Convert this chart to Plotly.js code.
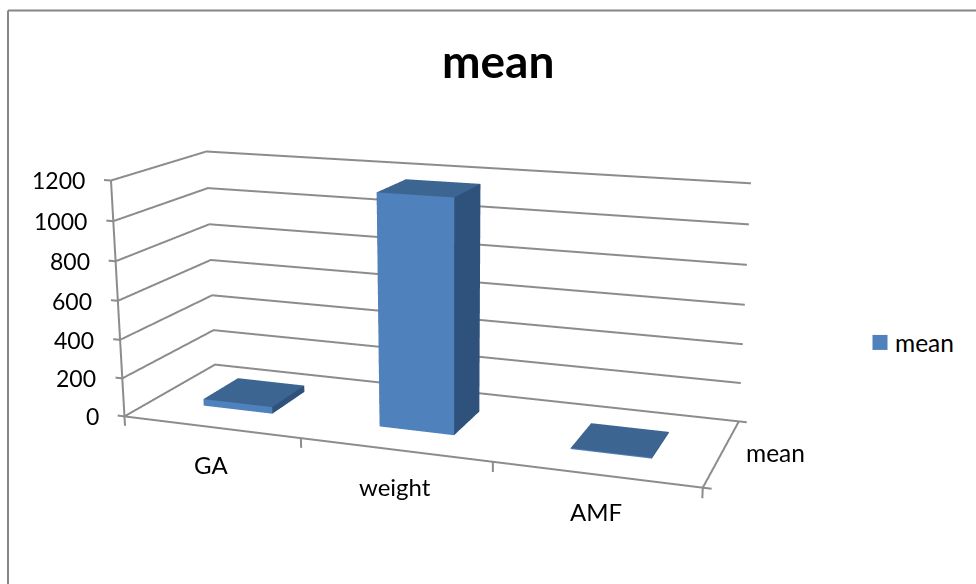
<!DOCTYPE html>
<html><head><meta charset="utf-8">
<script src="https://cdn.plot.ly/plotly-3.0.1.min.js"></script>
<style>html,body{margin:0;padding:0;background:#fff;overflow:hidden;width:976px;height:584px}#w{position:relative;width:976px;height:584px;overflow:hidden}#c{position:absolute;left:0}.legendsymbols{transform:translate(5px,0)}</style></head>
<body><div id="w"><div id="c"></div></div>
<script>
const categories=["GA","weight","AMF"];
const means=[35,1170,5];
const series="mean";
const zTicks=[0,200,400,600,800,1000,1200];
// Perspective fitted to the reference's box corners. Plotly's field of view is fixed,
// so the plot is taller than the window to get the long lens of the original.
const H=1280, Py=314.5, Px=450.7;
const boxX=2.4366, boxY=0.8;
const eye0=[2.1345,-5.7332,1.5759], center0=[0.5855,-1.3894,0.3489];
const top0=Py-H/2;
document.getElementById('c').style.top=top0+'px';
const vy=(y)=>1-(y-top0)/H, vx=(x)=>x/976;
const xr=[-.56,2.56], yr=[-.51,.51], zr=[-60,1212];
const dz=(600-(zr[0]+zr[1])/2)/1200;
const bw=0.2, bd=0.2;
const FRONT='#4f81bd',TOP='#3c6592',SIDE='#2f527c';
let x=[],y=[],z=[],i=[],j=[],k=[],fc=[];
means.forEach((v,n)=>{
  const b=x.length;
  [[-1,-1,0],[1,-1,0],[1,1,0],[-1,1,0],[-1,-1,1],[1,-1,1],[1,1,1],[-1,1,1]].forEach(q=>{x.push(n+q[0]*bw);y.push(q[1]*bd);z.push(q[2]*v);});
  [[0,1,2,SIDE],[0,2,3,SIDE],[4,5,6,TOP],[4,6,7,TOP],[0,1,5,FRONT],[0,5,4,FRONT],[1,2,6,SIDE],[1,6,5,SIDE],[2,3,7,SIDE],[2,7,6,SIDE],[3,0,4,SIDE],[3,4,7,SIDE]].forEach(f=>{i.push(b+f[0]);j.push(b+f[1]);k.push(b+f[2]);fc.push(f[3]);});
});
const gx=[],gy=[],gz=[];
zTicks.forEach(t=>{gx.push(-.54,-.5,-.5,2.5,null);gy.push(-.5,-.5,.5,.5,null);gz.push(t,t,t,t,null);});
[[-.5,-.5,-50,-.5,-.5,1200],[-.5,-.5,0,2.5,-.5,0],[2.5,-.5,0,2.5,.5,0],[.5,-.5,0,.5,-.5,-50],[1.5,-.5,0,1.5,-.5,-50],[2.5,-.5,-50,2.5,-.5,0],[2.5,-.5,0,2.54,-.5,0],[2.5,.5,0,2.54,.5,0]].forEach(s=>{gx.push(s[0],s[3],null);gy.push(s[1],s[4],null);gz.push(s[2],s[5],null);});
const tx=(t)=>({family:'Lato',size:t,color:'#000'});
const ann=[];
zTicks.forEach(t=>ann.push({x:-.5,y:-.5,z:t,text:String(t),showarrow:false,xanchor:'right',xshift:-24,font:tx(23)}));
categories.forEach((c,n)=>ann.push({x:n,y:-.5,z:0,text:c,showarrow:false,yshift:-37,font:tx(24)}));
ann.push({x:2.5,y:0,z:0,text:series,showarrow:false,xanchor:'left',xshift:22,font:tx(24.5)});
const ax0={showticklabels:false,showgrid:false,zeroline:false,showline:false,ticks:'',showbackground:false,showspikes:false,title:{text:''}};
Plotly.newPlot('c',[
 {type:'scatter3d',mode:'lines',x:gx,y:gy,z:gz,line:{color:'#8c8c8c',width:4},showlegend:false,hoverinfo:'skip',connectgaps:false},
 {type:'mesh3d',x,y,z,i,j,k,facecolor:fc,flatshading:true,lighting:{ambient:1,diffuse:0,specular:0,fresnel:0,roughness:1},showlegend:false,hoverinfo:'skip'},
 {type:'scatter3d',mode:'markers',x:[null],y:[null],z:[null],name:series,showlegend:true,marker:{symbol:'square',size:15,color:'#4f81bd'}}
],{
 width:976,height:H,margin:{l:0,r:0,t:0,b:0},paper_bgcolor:'#fff',
 annotations:[{xref:'paper',yref:'paper',x:vx(498),y:vy(60),xanchor:'center',yanchor:'middle',text:'<b>'+series+'</b>',showarrow:false,font:tx(46)}],
 legend:{x:vx(855),y:vy(342),xanchor:'left',yanchor:'middle',font:tx(24.5)},
 shapes:[{type:'line',xref:'paper',yref:'paper',x0:vx(8),x1:1,y0:vy(10),y1:vy(10),line:{color:'#868686',width:2}},{type:'line',xref:'paper',yref:'paper',x0:vx(8),x1:vx(8),y0:vy(10),y1:vy(584),line:{color:'#868686',width:2}}],
 scene:{domain:{x:[0,2*Px/976],y:[0,1]},aspectmode:'manual',aspectratio:{x:boxX*(xr[1]-xr[0])/3,y:boxY*(yr[1]-yr[0]),z:(zr[1]-zr[0])/1200},
  camera:{eye:{x:eye0[0],y:eye0[1],z:eye0[2]+dz},center:{x:center0[0],y:center0[1],z:center0[2]+dz},up:{x:0,y:0,z:1},projection:{type:'perspective'}},
  annotations:ann,
  xaxis:{...ax0,range:xr,tickvals:[]},
  yaxis:{...ax0,range:yr,tickvals:[]},
  zaxis:{...ax0,range:zr,tickvals:[]}}
},{displayModeBar:false});
</script></body></html>
